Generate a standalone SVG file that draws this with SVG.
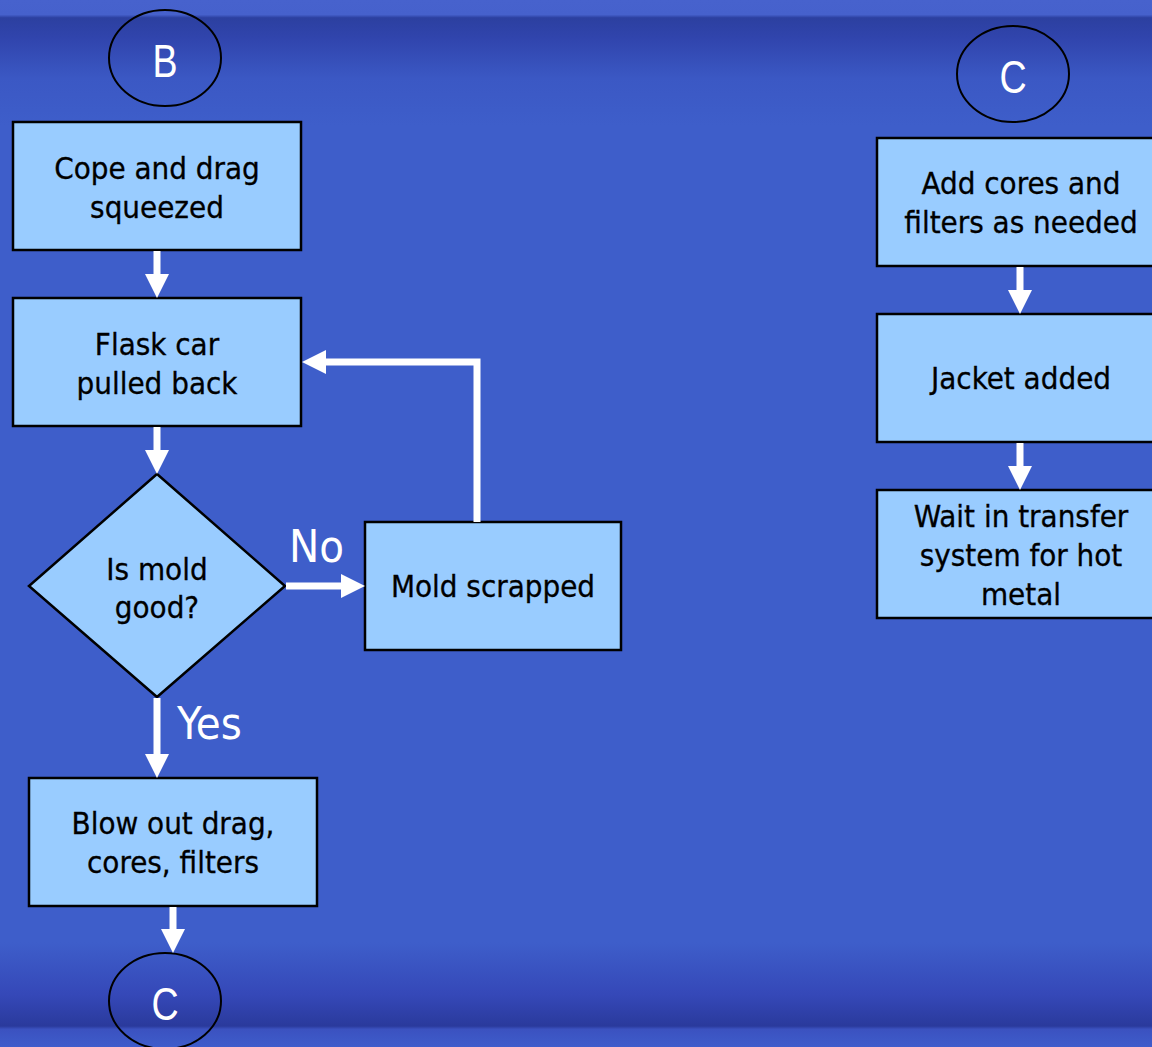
<svg xmlns="http://www.w3.org/2000/svg" width="1152" height="1047" viewBox="0 0 1152 1047">
  <defs>
    <linearGradient id="bg" x1="0" y1="0" x2="0" y2="1">
      <stop offset="0" stop-color="#4762cd"/>
      <stop offset="0.014" stop-color="#4661cc"/>
      <stop offset="0.017" stop-color="#2c40a0"/>
      <stop offset="0.035" stop-color="#3044ac"/>
      <stop offset="0.075" stop-color="#3b58c4"/>
      <stop offset="0.12" stop-color="#3e5eca"/>
      <stop offset="0.9" stop-color="#3e5eca"/>
      <stop offset="0.95" stop-color="#3548b8"/>
      <stop offset="0.98" stop-color="#2a3a9c"/>
      <stop offset="0.983" stop-color="#3b52c0"/>
      <stop offset="1" stop-color="#3e5ccb"/>
    </linearGradient>
    <!-- arrowhead: shaft stops at the base, head reaches 24px further -->
    <marker id="head" viewBox="0 0 24 24" refX="0" refY="12" markerWidth="24" markerHeight="24" markerUnits="userSpaceOnUse" orient="auto">
      <path d="M0,0 L24,12 L0,24 Z" fill="#ffffff"/>
    </marker>
  </defs>
  <style>
    .box { fill: #99ccff; stroke: #000000; stroke-width: 2.5; }
    .conn { fill: none; stroke: #000000; stroke-width: 2; }
    .lbl { font-family: "DejaVu Sans Condensed", "DejaVu Sans", sans-serif; font-size: 31px; fill: #000000; stroke: #000000; stroke-width: 0.3; text-anchor: middle; }
    .yn { font-family: "DejaVu Sans Condensed", "DejaVu Sans", sans-serif; font-size: 45px; fill: #ffffff; }
    .ref { font-family: "Liberation Sans", "DejaVu Sans Condensed", sans-serif; font-size: 47px; fill: #ffffff; text-anchor: middle; }
    .arrow { fill: none; stroke: #ffffff; stroke-width: 7; stroke-linejoin: miter; marker-end: url(#head); }
  </style>

  <rect x="0" y="0" width="1152" height="1047" fill="url(#bg)"/>

  <!-- off-page connector B -->
  <g id="conn-b">
    <ellipse class="conn" cx="165" cy="58" rx="56" ry="48"/>
    <text class="ref" transform="translate(165,77) scale(0.8,1)">B</text>
  </g>

  <g id="cope-drag">
    <rect class="box" x="13" y="122" width="288" height="128"/>
    <text class="lbl" x="157" y="179">Cope and drag</text>
    <text class="lbl" x="157" y="218">squeezed</text>
  </g>

  <g id="flask-car">
    <rect class="box" x="13" y="298" width="288" height="128"/>
    <text class="lbl" x="157" y="355">Flask car</text>
    <text class="lbl" x="157" y="394">pulled back</text>
  </g>

  <g id="mold-good">
    <polygon class="box" points="157,474 285,586 157,697 29,586"/>
    <text class="lbl" x="157" y="580">Is mold</text>
    <text class="lbl" x="157" y="618">good?</text>
  </g>

  <g id="mold-scrapped">
    <rect class="box" x="365" y="522" width="256" height="128"/>
    <text class="lbl" x="493" y="597">Mold scrapped</text>
  </g>

  <g id="blow-out">
    <rect class="box" x="29" y="778" width="288" height="128"/>
    <text class="lbl" x="173" y="834">Blow out drag,</text>
    <text class="lbl" x="173" y="873">cores, filters</text>
  </g>

  <!-- off-page connector C (outgoing) -->
  <g id="conn-c-out">
    <ellipse class="conn" cx="165" cy="1001" rx="56" ry="48"/>
    <text class="ref" transform="translate(165,1020) scale(0.8,1)">C</text>
  </g>

  <!-- off-page connector C (incoming) -->
  <g id="conn-c-in">
    <ellipse class="conn" cx="1013" cy="74" rx="56" ry="48"/>
    <text class="ref" transform="translate(1013,93) scale(0.8,1)">C</text>
  </g>

  <g id="add-cores">
    <rect class="box" x="877" y="138" width="288" height="128"/>
    <text class="lbl" x="1021" y="194">Add cores and</text>
    <text class="lbl" x="1021" y="233">filters as needed</text>
  </g>

  <g id="jacket">
    <rect class="box" x="877" y="314" width="288" height="128"/>
    <text class="lbl" x="1021" y="389">Jacket added</text>
  </g>

  <g id="wait-transfer">
    <rect class="box" x="877" y="490" width="288" height="128"/>
    <text class="lbl" x="1021" y="527">Wait in transfer</text>
    <text class="lbl" x="1021" y="566">system for hot</text>
    <text class="lbl" x="1021" y="605">metal</text>
  </g>

  <g id="connectors">
    <line class="arrow" x1="157" y1="251" x2="157" y2="274"/>
    <line class="arrow" x1="157" y1="427" x2="157" y2="450"/>
    <line class="arrow" x1="286" y1="586" x2="341" y2="586"/>
    <polyline class="arrow" points="477,522 477,362 326,362"/>
    <line class="arrow" x1="157" y1="698" x2="157" y2="754"/>
    <line class="arrow" x1="173" y1="907" x2="173" y2="929"/>
    <line class="arrow" x1="1020" y1="267" x2="1020" y2="290"/>
    <line class="arrow" x1="1020" y1="443" x2="1020" y2="466"/>
    <text class="yn" x="289" y="562">No</text>
    <text class="yn" x="177" y="739">Yes</text>
  </g>
</svg>
